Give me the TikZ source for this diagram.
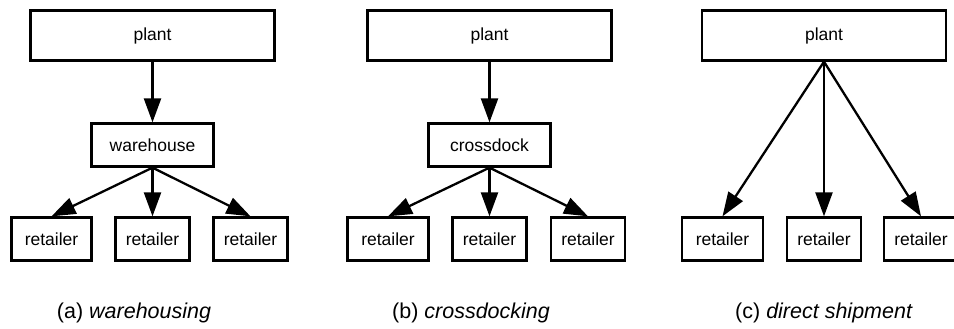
\documentclass[tikz,border=0pt]{standalone}
\usepackage{fontspec}
\setmainfont{Liberation Sans}
\usetikzlibrary{arrows.meta}
\begin{document}
\begin{tikzpicture}[x=1pt,y=-1pt,
  box/.style={draw, line width=2.3pt, inner sep=0pt, font=\fontsize{17.5}{20}\selectfont},
  bigbox/.style={box, minimum width=244pt, minimum height=50pt},
  midbox/.style={box, minimum width=122pt, minimum height=43pt},
  retbox/.style={box, minimum width=80pt, minimum height=43pt},
  flow/.style={line width=2.3pt, -{Triangle[length=24pt,width=17pt]}},
  captext/.style={font=\fontsize{21.5}{24}\selectfont, inner sep=0pt}]
\useasboundingbox (0,0) rectangle (954,329);
% (a)
\node[bigbox] (pa) at (152.5,35.5) {plant};
\node[midbox] (wa) at (152.5,145) {warehouse};
\node[retbox, minimum width=80pt] (ra1) at (51.5,239) {retailer};
\node[retbox, minimum width=74pt] (ra2) at (152.5,239) {retailer};
\node[retbox, minimum width=74pt] (ra3) at (250.5,239) {retailer};
\draw[flow] (pa.south) -- (wa.north);
\draw[flow] (wa.south) -- (ra1.north);
\draw[flow] (wa.south) -- (ra2.north);
\draw[flow] (wa.south) -- (ra3.north);
\node[captext] (ca) at (134,313) {(a) \textit{warehousing}};
% (b)
\node[bigbox] (pb) at (489.5,35.5) {plant};
\node[midbox] (cb) at (489.5,145) {crossdock};
\node[retbox, minimum width=81pt] (rb1) at (388,239) {retailer};
\node[retbox, minimum width=74pt] (rb2) at (489.5,239) {retailer};
\node[retbox, minimum width=74pt] (rb3) at (588,239) {retailer};
\draw[flow] (pb.south) -- (cb.north);
\draw[flow] (cb.south) -- (rb1.north);
\draw[flow] (cb.south) -- (rb2.north);
\draw[flow] (cb.south) -- (rb3.north);
\node[captext] (cbl) at (471,313) {(b) \textit{crossdocking}};
% (c)
\node[bigbox] (pc) at (824,35.5) {plant};
\node[retbox, minimum width=81pt] (rc1) at (722.5,239) {retailer};
\node[retbox, minimum width=74pt] (rc2) at (824,239) {retailer};
\node[retbox, minimum width=74pt] (rc3) at (921,239) {retailer};
\draw[flow] (pc.south) -- (rc1.north);
\draw[flow] (pc.south) -- (rc2.north);
\draw[flow] (pc.south) -- (rc3.north);
\node[captext] (ccl) at (824,313) {(c) \textit{direct shipment}};
\end{tikzpicture}
\end{document}
